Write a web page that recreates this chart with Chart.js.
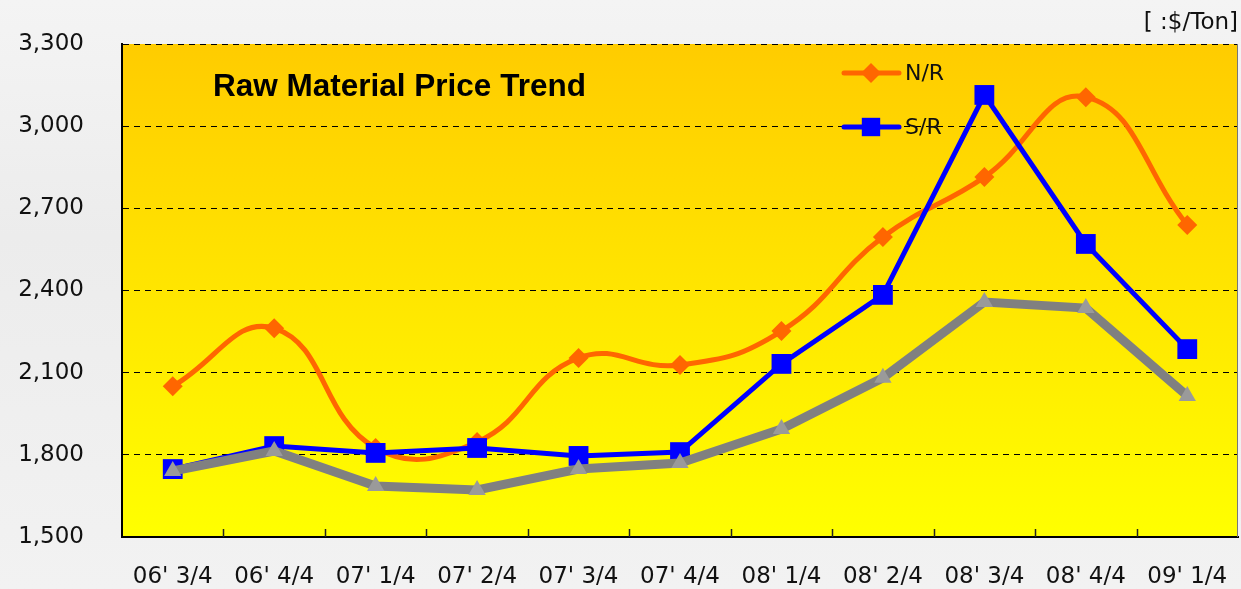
<!DOCTYPE html>
<html>
<head>
<meta charset="utf-8">
<script src="https://cdn.jsdelivr.net/npm/chart.js@4"></script>
<style>
  html, body { margin: 0; padding: 0; }
  body {
    width: 1241px; height: 589px; overflow: hidden;
    background: linear-gradient(180deg, #f4f4f4 0%, #ececec 40%, #f2f2f2 100%);
  }
  #wrap { position: relative; width: 1241px; height: 589px; }
</style>
</head>
<body>
<div id="wrap"><canvas id="priceChart" width="1241" height="589"></canvas></div>
<script>
// 四半期ラベル
const quarters = ["06' 3/4", "06' 4/4", "07' 1/4", "07' 2/4", "07' 3/4", "07' 4/4",
                  "08' 1/4", "08' 2/4", "08' 3/4", "08' 4/4", "09' 1/4"];
// N/R（天然ゴム）
const nrPrices = [2050, 2262, 1825, 1847, 2154, 2128, 2252, 2595, 2814, 3106, 2639];
// S/R（合成ゴム）
const srPrices = [1748, 1832, 1807, 1825, 1796, 1810, 2132, 2384, 3114, 2570, 2186];
// 凡例なしのグレー系列
const grayPrices = [1741, 1814, 1686, 1672, 1748, 1770, 1894, 2081, 2358, 2336, 2015];

const yTicks = {min: 1500, max: 3300, step: 300};
const titleText = 'Raw Material Price Trend';
const unitText = '[ :$/Ton]';

// プロット背景のグラデーション
const plotBackground = {
    id: 'plotBackground',
    beforeDraw(chart) {
        const {ctx, chartArea: a} = chart;
        const g = ctx.createLinearGradient(0, a.top, 0, a.bottom);
        g.addColorStop(0, '#ffcc00');
        g.addColorStop(1, '#ffff00');
        ctx.save();
        ctx.fillStyle = g;
        ctx.fillRect(a.left, a.top, a.right - a.left, a.bottom - a.top);
        ctx.restore();
    },
    afterDraw(chart) {
        const {ctx, chartArea: a} = chart;
        const x = chart.scales.x;
        ctx.save();
        // 内側の目盛り
        ctx.strokeStyle = '#222';
        ctx.lineWidth = 1.5;
        for (let i = 0; i < quarters.length - 1; i++) {
            const px = Math.round((x.getPixelForValue(i) + x.getPixelForValue(i + 1)) / 2) + 0.5;
            ctx.beginPath();
            ctx.moveTo(px, a.bottom);
            ctx.lineTo(px, a.bottom - 8);
            ctx.stroke();
        }
        // 右枠
        ctx.strokeStyle = '#777';
        ctx.lineWidth = 1;
        ctx.beginPath();
        ctx.moveTo(a.right - 0.5, a.top);
        ctx.lineTo(a.right - 0.5, a.bottom);
        ctx.stroke();

        // タイトル
        ctx.fillStyle = '#000';
        ctx.font = 'bold 31.5px "Liberation Sans", Arial, sans-serif';
        ctx.textBaseline = 'middle';
        ctx.textAlign = 'left';
        ctx.fillText(titleText, 213, 87);

        // 単位
        ctx.font = '23px "DejaVu Sans", sans-serif';
        ctx.textAlign = 'right';
        ctx.fillStyle = '#111';
        ctx.fillText(unitText, 1238, 23);

        // 凡例
        const items = [
            {label: 'N/R', color: '#ff6600', style: 'rectRot', r: 10, y: 73},
            {label: 'S/R', color: '#0000ff', style: 'rect', r: 13, y: 127}
        ];
        items.forEach(it => {
            ctx.strokeStyle = it.color;
            ctx.lineWidth = 5;
            ctx.lineCap = 'round';
            ctx.beginPath();
            ctx.moveTo(844, it.y);
            ctx.lineTo(899, it.y);
            ctx.stroke();
            ctx.fillStyle = it.color;
            Chart.helpers.drawPoint(ctx, {pointStyle: it.style, radius: it.r, borderWidth: 0}, 871, it.y);
            ctx.fillStyle = '#111';
            ctx.textAlign = 'left';
            ctx.font = '22px "DejaVu Sans", sans-serif';
            ctx.fillText(it.label, 905, it.y + 1);
        });
        ctx.restore();
    }
};

const ctx = document.getElementById('priceChart').getContext('2d');
const priceChart = new Chart(ctx, {
    type: 'line',
    data: {
        labels: quarters,
        datasets: [
            {
                label: 'N/R',
                data: nrPrices,
                borderColor: '#ff6600',
                backgroundColor: '#ff6600',
                borderWidth: 5,
                tension: 0.45,
                pointStyle: 'rectRot',
                pointRadius: 10,
                pointBorderWidth: 0,
                order: 2
            },
            {
                label: 'S/R',
                data: srPrices,
                borderColor: '#0000ff',
                backgroundColor: '#0000ff',
                borderWidth: 5,
                tension: 0,
                pointStyle: 'rect',
                pointRadius: 14,
                pointBorderWidth: 0,
                order: 1
            },
            {
                label: '',
                data: grayPrices,
                borderColor: '#808080',
                backgroundColor: '#9a9a9a',
                borderWidth: 9,
                tension: 0,
                pointStyle: 'triangle',
                pointRadius: 10,
                pointBorderWidth: 0,
                order: 0
            }
        ]
    },
    options: {
        responsive: false,
        animation: false,
        layout: {autoPadding: false, padding: {top: 44, right: 3, left: 0, bottom: 0}},
        plugins: {
            legend: {display: false},
            title: {display: false},
            tooltip: {enabled: false}
        },
        scales: {
            x: {
                offset: true,
                grid: {display: true, drawOnChartArea: false, drawTicks: true,
                       tickLength: 20, tickColor: 'rgba(0,0,0,0)'},
                border: {display: true, color: '#000', width: 2},
                ticks: {
                    color: '#111',
                    padding: 6,
                    maxRotation: 0,
                    autoSkip: false,
                    font: {family: '"DejaVu Sans", sans-serif', size: 23}
                },
                afterFit(scale) { scale.height = 52; }
            },
            y: {
                min: yTicks.min,
                max: yTicks.max,
                grid: {color: '#000', lineWidth: 1, drawTicks: false},
                border: {display: true, color: '#000', width: 2, dash: [6, 5]},
                ticks: {
                    stepSize: yTicks.step,
                    color: '#111',
                    padding: 38,
                    font: {family: '"DejaVu Sans", sans-serif', size: 23, lineHeight: 0.5},
                    callback: v => v.toLocaleString('en-US')
                },
                afterFit(scale) {
                    scale.width = 122;
                    scale.paddingTop = 0;
                    scale.paddingBottom = 0;
                }
            }
        }
    },
    plugins: [plotBackground]
});
</script>
</body>
</html>
